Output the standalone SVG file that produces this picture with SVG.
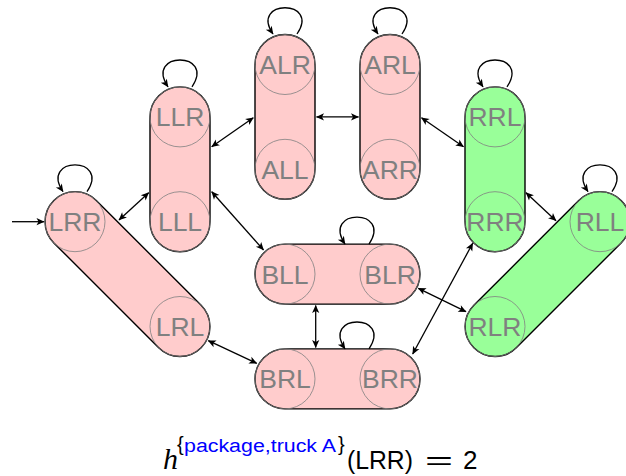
<svg xmlns="http://www.w3.org/2000/svg" xmlns:xlink="http://www.w3.org/1999/xlink" width="626" height="476" viewBox="0 0 626 476">
<style>
.cap{stroke:#000;stroke-width:1.4}
.pink{fill:#ffcccc}
.green{fill:#99ff99}
.st{fill:none;stroke:#808080;stroke-width:0.8}
.lb{font-family:"Liberation Sans",Arial,sans-serif;font-size:26.5px;fill:#808080;text-anchor:middle}
.ed{fill:none;stroke:#000;stroke-width:1.3;marker-start:url(#ah);marker-end:url(#ah)}
.one{fill:none;stroke:#000;stroke-width:1.3;marker-end:url(#ah)}
.f{font-family:"Liberation Sans",Arial,sans-serif;fill:#000}
</style>
<defs>
<marker id="ah" viewBox="-9 -5 10 10" refX="0" refY="0" markerWidth="10" markerHeight="10" markerUnits="userSpaceOnUse" orient="auto-start-reverse">
<path d="M0.5,0 L-7.5,-3.6 L-5.5,0 L-7.5,3.6 Z" fill="#000"/>
</marker>
</defs>

<g id="node-LRR-LRL">
<rect class="cap pink" x="-104.15" y="-30" width="208.3" height="60" rx="30" transform="translate(127.5,274.1) rotate(45)"/>
<circle class="st" cx="75" cy="221.7" r="30"/>
<circle class="st" cx="180" cy="326.5" r="30"/>
<text class="lb" x="75" y="231.2">LRR</text>
<text class="lb" x="180" y="336">LRL</text>
</g>
<g id="node-LLR-LLL">
<rect class="cap pink" x="150" y="86.9" width="60" height="164.8" rx="30"/>
<circle class="st" cx="180" cy="116.9" r="30"/>
<circle class="st" cx="180" cy="221.7" r="30"/>
<text class="lb" x="180" y="126.4">LLR</text>
<text class="lb" x="180" y="231.2">LLL</text>
</g>
<g id="node-ALR-ALL">
<rect class="cap pink" x="255" y="34.5" width="60" height="164.8" rx="30"/>
<circle class="st" cx="285" cy="64.5" r="30"/>
<circle class="st" cx="285" cy="169.3" r="30"/>
<text class="lb" x="285" y="74">ALR</text>
<text class="lb" x="285" y="178.8">ALL</text>
</g>
<g id="node-ARL-ARR">
<rect class="cap pink" x="360" y="34.5" width="60" height="164.8" rx="30"/>
<circle class="st" cx="390" cy="64.5" r="30"/>
<circle class="st" cx="390" cy="169.3" r="30"/>
<text class="lb" x="390" y="74">ARL</text>
<text class="lb" x="390" y="178.8">ARR</text>
</g>
<g id="node-RRL-RRR">
<rect class="cap green" x="465" y="86.9" width="60" height="164.8" rx="30"/>
<circle class="st" cx="495" cy="116.9" r="30"/>
<circle class="st" cx="495" cy="221.7" r="30"/>
<text class="lb" x="495" y="126.4">RRL</text>
<text class="lb" x="495" y="231.2">RRR</text>
</g>
<g id="node-RLR-RLL">
<rect class="cap green" x="-104.15" y="-30" width="208.3" height="60" rx="30" transform="translate(547.5,274.1) rotate(-45)"/>
<circle class="st" cx="600" cy="221.7" r="30"/>
<circle class="st" cx="495" cy="326.5" r="30"/>
<text class="lb" x="600" y="231.2">RLL</text>
<text class="lb" x="495" y="336">RLR</text>
</g>
<g id="node-BLL-BLR">
<rect class="cap pink" x="255" y="244.1" width="165" height="60" rx="30"/>
<circle class="st" cx="285" cy="274.1" r="30"/>
<circle class="st" cx="390" cy="274.1" r="30"/>
<text class="lb" x="285" y="283.6">BLL</text>
<text class="lb" x="390" y="283.6">BLR</text>
</g>
<g id="node-BRL-BRR">
<rect class="cap pink" x="255" y="348.9" width="165" height="60" rx="30"/>
<circle class="st" cx="285" cy="378.9" r="30"/>
<circle class="st" cx="390" cy="378.9" r="30"/>
<text class="lb" x="285" y="388.4">BRL</text>
<text class="lb" x="390" y="388.4">BRR</text>
</g>

<g id="connectors">
<path class="one" d="M12,221.7 L44,221.7"/>
<path class="ed" d="M119,220 L148.7,192.7"/>
<path class="ed" d="M211.7,146.7 L253.3,117.7"/>
<path class="ed" d="M316.5,116.9 L358.5,116.9"/>
<path class="ed" d="M421.5,117.7 L463.5,146.7"/>
<path class="ed" d="M211.7,191.7 L263.5,250"/>
<path class="ed" d="M315.7,305.5 L315.7,347.5"/>
<path class="ed" d="M208.3,340.7 L256.7,363.3"/>
<path class="ed" d="M418.3,288.3 L466,311.7"/>
<path class="ed" d="M412.7,354 L472.7,243.3"/>
<path class="ed" d="M526,192.7 L556,220.7"/>
<path class="one" d="M87,191.7 C111,156 39,156 63,191.7"/>
<path class="one" d="M192,86.9 C216,51 144,51 168,86.9"/>
<path class="one" d="M297,34 C321,-1 249,-1 273,34"/>
<path class="one" d="M402,34 C426,-1 354,-1 378,34"/>
<path class="one" d="M507,86.9 C531,51 459,51 483,86.9"/>
<path class="one" d="M612,191.7 C636,156 564,156 588,191.7"/>
<path class="one" d="M369,244.1 C393,208 321,208 345,244.1"/>
<path class="one" d="M369,348.9 C393,313 321,313 345,348.9"/>
</g>

<g id="formula">
<text x="163" y="469" style="font-family:'Liberation Serif',serif;font-style:italic;font-size:30px;fill:#000">h</text>
<text class="f" x="177" y="451" style="font-size:20px">{</text>
<text x="184" y="452" textLength="152" lengthAdjust="spacingAndGlyphs" style="font-family:'Liberation Sans',Arial,sans-serif;font-size:18px;fill:#0000ff">package,truck A</text>
<text class="f" x="338" y="451" style="font-size:20px">}</text>
<text class="f" x="347" y="469" textLength="66" lengthAdjust="spacingAndGlyphs" style="font-size:26px">(LRR)</text>
<text class="f" x="425" y="469" textLength="28" lengthAdjust="spacingAndGlyphs" style="font-size:26px">=</text>
<text class="f" x="463" y="469" style="font-size:26px">2</text>
</g>
</svg>
